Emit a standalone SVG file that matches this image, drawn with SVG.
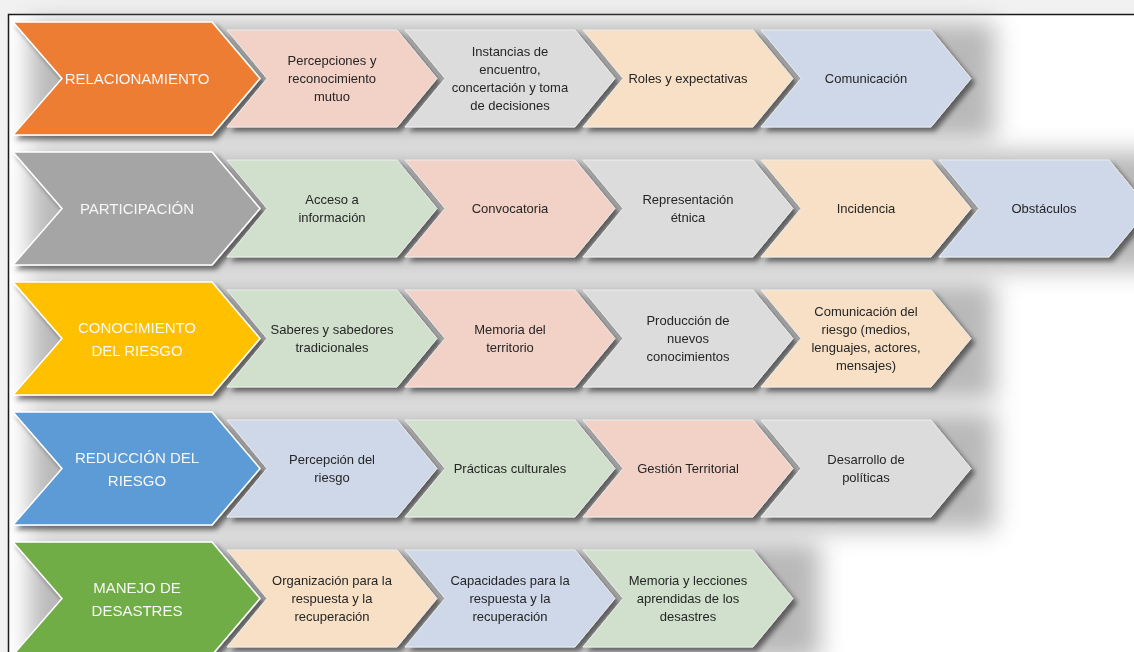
<svg xmlns="http://www.w3.org/2000/svg" xmlns:xlink="http://www.w3.org/1999/xlink" width="1134" height="652" viewBox="0 0 1134 652">
<defs>
<style>
.h{font-family:"Liberation Sans",Arial,sans-serif;font-size:15px;fill:#f7f7f7;text-anchor:middle}
.c{font-family:"Liberation Sans",Arial,sans-serif;font-size:13px;fill:#262626;text-anchor:middle}
.hs{stroke:#ffffff;stroke-width:1.5}
.cs{stroke:#f4f4f4;stroke-width:0.8}
</style>
<polygon id="hdr" points="0,0 199,0 247,56.5 199,113 0,113 49,56.5"/>
<polygon id="chv" points="0,0 170,0 210,48.5 170,97 0,97 40,48.5"/>
<filter id="sh" filterUnits="userSpaceOnUse" x="0" y="0" width="1134" height="652">
<feGaussianBlur in="SourceAlpha" stdDeviation="2.5"/>
<feOffset dx="4" dy="4" result="o"/>
<feComponentTransfer in="o" result="s"><feFuncA type="linear" slope="0.5"/></feComponentTransfer>
<feMerge><feMergeNode in="s"/><feMergeNode in="SourceGraphic"/></feMerge>
</filter>
<filter id="halo" filterUnits="userSpaceOnUse" x="-50" y="-50" width="1250" height="760">
<feGaussianBlur in="SourceGraphic" stdDeviation="12"/>
</filter>
</defs>
<rect x="0" y="0" width="1134" height="652" fill="#f1f1f1"/>
<rect x="8.5" y="14.5" width="1200" height="700" fill="#ffffff" stroke="#1a1a1a" stroke-width="1.5"/>
<g id="halos" fill="#8a8a8a" opacity="0.6">
<rect x="30" y="22" width="965" height="118" filter="url(#halo)"/>
<rect x="30" y="152" width="1150" height="118" filter="url(#halo)"/>
<rect x="30" y="282" width="965" height="118" filter="url(#halo)"/>
<rect x="30" y="412" width="965" height="118" filter="url(#halo)"/>
<rect x="30" y="542" width="790" height="118" filter="url(#halo)"/>
</g>
<g id="connectors"/>
<!-- Row 1 -->
<g id="row1" filter="url(#sh)">
<g id="r1c4"><use href="#chv" x="761" y="30" fill="#CED8E9" class="cs"/><text class="c" x="866" y="83">Comunicación</text></g>
<g id="r1c3"><use href="#chv" x="583" y="30" fill="#F7E0C5" class="cs"/><text class="c" x="688" y="83">Roles y expectativas</text></g>
<g id="r1c2"><use href="#chv" x="405" y="30" fill="#DCDCDC" class="cs"/><text class="c" x="510"><tspan x="510" y="56">Instancias de</tspan><tspan x="510" y="74">encuentro,</tspan><tspan x="510" y="92">concertación y toma</tspan><tspan x="510" y="110">de decisiones</tspan></text></g>
<g id="r1c1"><use href="#chv" x="227" y="30" fill="#F2D1C6" class="cs"/><text class="c" x="332"><tspan x="332" y="65">Percepciones y</tspan><tspan x="332" y="83">reconocimiento</tspan><tspan x="332" y="101">mutuo</tspan></text></g>
<g id="r1h"><use href="#hdr" x="13" y="22" fill="#ED7D31" class="hs"/><text class="h" x="137" y="84">RELACIONAMIENTO</text></g>
</g>
<!-- Row 2 -->
<g id="row2" filter="url(#sh)">
<g id="r2c5"><use href="#chv" x="939" y="160" fill="#CED8E9" class="cs"/><text class="c" x="1044" y="213">Obstáculos</text></g>
<g id="r2c4"><use href="#chv" x="761" y="160" fill="#F7E0C5" class="cs"/><text class="c" x="866" y="213">Incidencia</text></g>
<g id="r2c3"><use href="#chv" x="583" y="160" fill="#DCDCDC" class="cs"/><text class="c" x="688"><tspan x="688" y="204">Representación</tspan><tspan x="688" y="222">étnica</tspan></text></g>
<g id="r2c2"><use href="#chv" x="405" y="160" fill="#F2D1C6" class="cs"/><text class="c" x="510" y="213">Convocatoria</text></g>
<g id="r2c1"><use href="#chv" x="227" y="160" fill="#D0E0CC" class="cs"/><text class="c" x="332"><tspan x="332" y="204">Acceso a</tspan><tspan x="332" y="222">información</tspan></text></g>
<g id="r2h"><use href="#hdr" x="13" y="152" fill="#A5A5A5" class="hs"/><text class="h" x="137" y="214">PARTICIPACIÓN</text></g>
</g>
<!-- Row 3 -->
<g id="row3" filter="url(#sh)">
<g id="r3c4"><use href="#chv" x="761" y="290" fill="#F7E0C5" class="cs"/><text class="c" x="866"><tspan x="866" y="316">Comunicación del</tspan><tspan x="866" y="334">riesgo (medios,</tspan><tspan x="866" y="352">lenguajes, actores,</tspan><tspan x="866" y="370">mensajes)</tspan></text></g>
<g id="r3c3"><use href="#chv" x="583" y="290" fill="#DCDCDC" class="cs"/><text class="c" x="688"><tspan x="688" y="325">Producción de</tspan><tspan x="688" y="343">nuevos</tspan><tspan x="688" y="361">conocimientos</tspan></text></g>
<g id="r3c2"><use href="#chv" x="405" y="290" fill="#F2D1C6" class="cs"/><text class="c" x="510"><tspan x="510" y="334">Memoria del</tspan><tspan x="510" y="352">territorio</tspan></text></g>
<g id="r3c1"><use href="#chv" x="227" y="290" fill="#D0E0CC" class="cs"/><text class="c" x="332"><tspan x="332" y="334">Saberes y sabedores</tspan><tspan x="332" y="352">tradicionales</tspan></text></g>
<g id="r3h"><use href="#hdr" x="13" y="282" fill="#FFC000" class="hs"/><text class="h" x="137"><tspan x="137" y="332.5">CONOCIMIENTO</tspan><tspan x="137" y="355.5">DEL RIESGO</tspan></text></g>
</g>
<!-- Row 4 -->
<g id="row4" filter="url(#sh)">
<g id="r4c4"><use href="#chv" x="761" y="420" fill="#DCDCDC" class="cs"/><text class="c" x="866"><tspan x="866" y="464">Desarrollo de</tspan><tspan x="866" y="482">políticas</tspan></text></g>
<g id="r4c3"><use href="#chv" x="583" y="420" fill="#F2D1C6" class="cs"/><text class="c" x="688" y="473">Gestión Territorial</text></g>
<g id="r4c2"><use href="#chv" x="405" y="420" fill="#D0E0CC" class="cs"/><text class="c" x="510" y="473">Prácticas culturales</text></g>
<g id="r4c1"><use href="#chv" x="227" y="420" fill="#CED8E9" class="cs"/><text class="c" x="332"><tspan x="332" y="464">Percepción del</tspan><tspan x="332" y="482">riesgo</tspan></text></g>
<g id="r4h"><use href="#hdr" x="13" y="412" fill="#5B9BD5" class="hs"/><text class="h" x="137"><tspan x="137" y="462.5">REDUCCIÓN DEL</tspan><tspan x="137" y="485.5">RIESGO</tspan></text></g>
</g>
<!-- Row 5 -->
<g id="row5" filter="url(#sh)">
<g id="r5c3"><use href="#chv" x="583" y="550" fill="#D0E0CC" class="cs"/><text class="c" x="688"><tspan x="688" y="585">Memoria y lecciones</tspan><tspan x="688" y="603">aprendidas de los</tspan><tspan x="688" y="621">desastres</tspan></text></g>
<g id="r5c2"><use href="#chv" x="405" y="550" fill="#CED8E9" class="cs"/><text class="c" x="510"><tspan x="510" y="585">Capacidades para la</tspan><tspan x="510" y="603">respuesta y la</tspan><tspan x="510" y="621">recuperación</tspan></text></g>
<g id="r5c1"><use href="#chv" x="227" y="550" fill="#F7E0C5" class="cs"/><text class="c" x="332"><tspan x="332" y="585">Organización para la</tspan><tspan x="332" y="603">respuesta y la</tspan><tspan x="332" y="621">recuperación</tspan></text></g>
<g id="r5h"><use href="#hdr" x="13" y="542" fill="#70AD47" class="hs"/><text class="h" x="137"><tspan x="137" y="592.5">MANEJO DE</tspan><tspan x="137" y="615.5">DESASTRES</tspan></text></g>
</g>
</svg>
